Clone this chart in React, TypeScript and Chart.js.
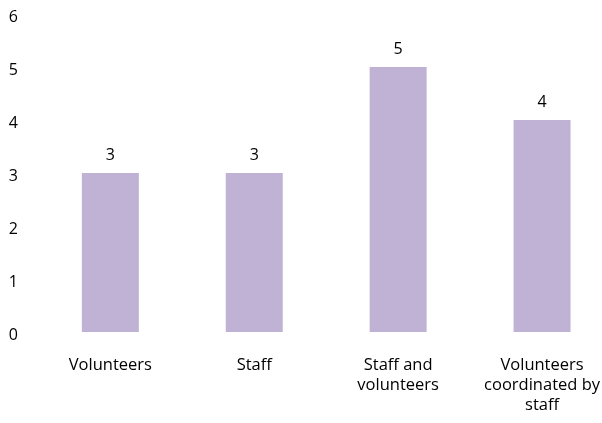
import React, { useEffect, useRef } from "react";
import { Chart, registerables } from "chart.js";

Chart.register(...registerables);

const categories: string[][] = [
  ["Volunteers"],
  ["Staff"],
  ["Staff and", "volunteers"],
  ["Volunteers", "coordinated by", "staff"],
];
const values: number[] = [3, 3, 5, 4];
const yTicks: number[] = [0, 1, 2, 3, 4, 5, 6];

const FONT = "'Open Sans', 'DejaVu Sans', sans-serif";
const BAR_COLOR = "#C0B2D4";

const valueLabels = {
  id: "valueLabels",
  afterDatasetsDraw(chart: any) {
    const ctx = chart.ctx;
    const meta = chart.getDatasetMeta(0);
    ctx.save();
    ctx.font = `16px ${FONT}`;
    ctx.fillStyle = "#000";
    ctx.textAlign = "center";
    ctx.textBaseline = "alphabetic";
    meta.data.forEach((el: any, i: number) => {
      ctx.fillText(String(values[i]), el.x, el.y - 13.5);
    });
    ctx.restore();
  },
};

export default function App() {
  const ref = useRef<HTMLCanvasElement | null>(null);
  useEffect(() => {
    if (!ref.current) return;
    const chart = new Chart(ref.current, {
      type: "bar",
      data: {
        labels: categories,
        datasets: [
          {
            data: values,
            backgroundColor: BAR_COLOR,
            barPercentage: 0.396,
            categoryPercentage: 1,
          },
        ],
      },
      options: {
        animation: false,
        responsive: false,
        maintainAspectRatio: false,
        layout: { padding: { top: 14, left: 0, right: 0, bottom: 0 } },
        plugins: {
          legend: { display: false },
          tooltip: { enabled: false },
        },
        scales: {
          x: {
            grid: { display: false, drawTicks: false },
            border: { display: false },
            ticks: {
              color: "#000",
              padding: 23,
              maxRotation: 0,
              autoSkip: false,
              font: { family: FONT, size: 16.5, lineHeight: 1.22 },
            },
            afterFit(scale: any) {
              scale.height = 91;
              scale.paddingLeft = 0;
              scale.paddingRight = 0;
            },
          },
          y: {
            min: 0,
            max: 6,
            grid: { display: false, drawTicks: false },
            border: { display: false },
            afterBuildTicks(scale: any) {
              scale.ticks = yTicks.map((v) => ({ value: v }));
            },
            ticks: {
              color: "#000",
              padding: 20.5,
              labelOffset: 3,
              font: { family: FONT, size: 16 },
            },
            afterFit(scale: any) {
              scale.width = 38.4;
              scale.paddingTop = 0;
              scale.paddingBottom = 0;
            },
          },
        },
      },
      plugins: [valueLabels],
    });
    return () => chart.destroy();
  }, []);
  return (
    <div
      style={{
        position: "fixed",
        left: 0,
        top: 0,
        width: 602,
        height: 423,
        overflow: "hidden",
        background: "#fff",
      }}
    >
      <canvas ref={ref} width={614} height={423} style={{ display: "block" }} />
    </div>
  );
}
